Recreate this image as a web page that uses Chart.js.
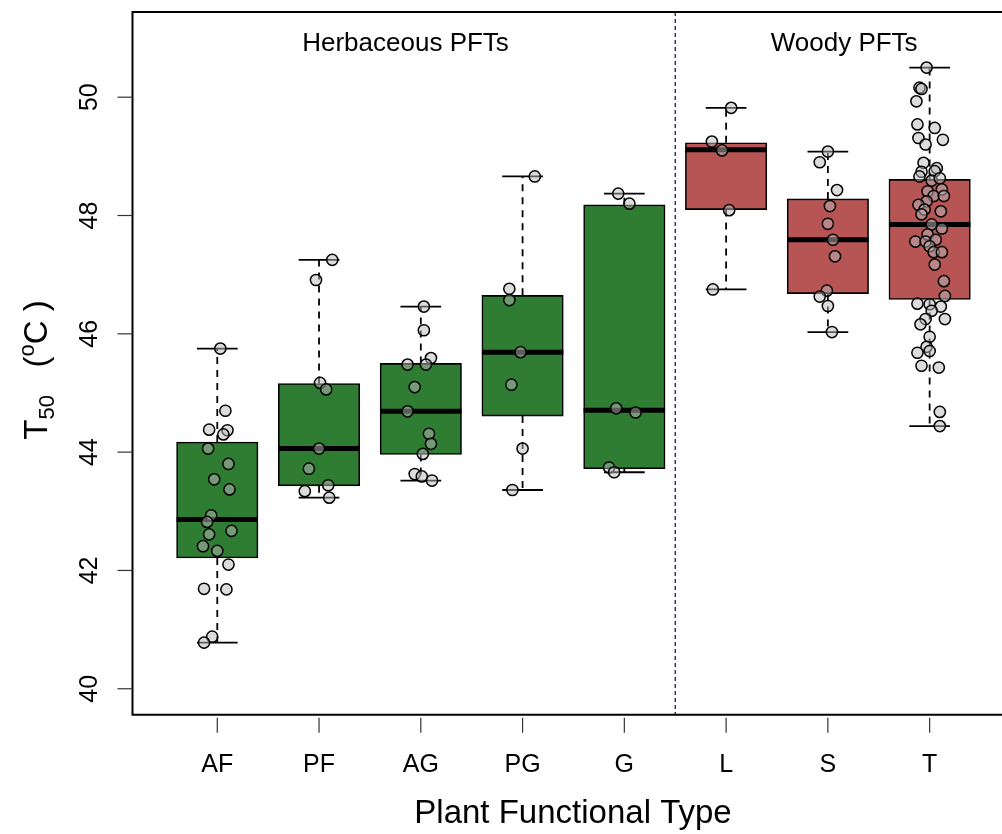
<!DOCTYPE html>
<html><head><meta charset="utf-8">
<script src="https://cdn.jsdelivr.net/npm/chart.js@4/dist/chart.umd.min.js"></script>
<style>html,body{margin:0;padding:0;background:#fff;overflow:hidden;}#wrap{width:1002px;height:834px;position:relative;}</style>
</head><body><div id="wrap"><canvas id="c"></canvas></div>
<script>
// ---------------- data ----------------
const categories = ['AF','PF','AG','PG','G','L','S','T'];
const pftGroup   = ['Herbaceous','Herbaceous','Herbaceous','Herbaceous','Herbaceous','Woody','Woody','Woody'];
const yTicks = [40,42,44,46,48,50];
const groupTitles = ['Herbaceous PFTs','Woody PFTs'];

const q1Values      = [42.21,43.43,43.96,44.61,43.72,48.10,46.68,46.58];
const medianValues  = [42.86,44.06,44.69,45.69,44.71,49.11,47.59,47.85];
const q3Values      = [44.17,45.16,45.50,46.65,48.18,49.23,48.28,48.61];
const whiskerLow    = [40.78,43.23,43.52,43.36,43.66,46.75,46.03,44.44];
const whiskerHigh   = [45.75,47.25,46.46,48.66,48.37,49.82,49.08,50.50];

const afValues = [45.75,44.70,44.38,44.37,44.30,44.06,43.80,43.54,43.37,42.93,42.82,42.67,42.61,42.41,42.33,42.10,41.69,41.68,40.88,40.78];
const afJitter = [0.03,0.08,-0.08,0.10,0.06,-0.09,0.11,-0.03,0.12,-0.06,-0.10,0.14,-0.08,-0.14,0.00,0.11,-0.13,0.09,-0.05,-0.13];
const pfValues = [47.25,46.91,45.17,45.06,44.06,43.72,43.44,43.34,43.23];
const pfJitter = [0.13,-0.03,0.01,0.07,0.00,-0.10,0.09,-0.14,0.10];
const agValues = [46.46,46.06,45.59,45.48,45.48,45.10,44.69,44.31,44.14,43.97,43.63,43.59,43.52];
const agJitter = [0.03,0.03,0.10,-0.13,0.05,-0.06,-0.13,0.08,0.10,0.02,-0.06,0.01,0.11];
const pgValues = [48.66,46.76,46.57,45.69,45.14,44.06,43.36];
const pgJitter = [0.12,-0.13,-0.13,-0.02,-0.11,0.00,-0.10];
const gValues  = [48.37,48.20,44.74,44.67,43.74,43.66];
const gJitter  = [-0.06,0.05,-0.08,0.11,-0.15,-0.10];
const lValues  = [49.82,49.25,49.10,48.09,46.75];
const lJitter  = [0.05,-0.14,-0.04,0.03,-0.13];
const sValues  = [49.08,48.90,48.43,48.16,47.86,47.59,47.31,46.73,46.63,46.47,46.03];
const sJitter  = [0.00,-0.08,0.09,0.02,0.00,0.05,0.07,-0.01,-0.08,0.00,0.04];
const tValues  = [50.50,50.16,50.14,49.93,49.54,49.48,49.31,49.28,49.20,48.89,48.80,48.74,48.75,48.66,48.59,48.63,48.44,48.41,48.33,48.24,48.33,48.18,48.10,48.07,48.02,47.85,47.78,47.68,47.56,47.56,47.59,47.48,47.38,47.38,47.17,46.89,46.64,46.51,46.50,46.46,46.39,46.25,46.25,46.16,45.95,45.78,45.68,45.71,45.46,45.43,44.68,44.44];
const tJitter  = [-0.03,-0.10,-0.08,-0.13,-0.12,0.05,-0.11,0.13,-0.04,-0.06,0.07,-0.08,0.05,-0.10,0.02,0.10,0.12,-0.02,0.04,-0.03,0.14,-0.11,-0.05,0.11,-0.08,0.02,0.12,-0.02,-0.14,-0.04,0.06,0.00,0.04,0.12,0.05,0.14,0.15,-0.12,0.00,0.11,0.02,0.15,-0.04,-0.09,0.00,-0.03,-0.12,0.00,-0.08,0.09,0.10,0.10];

const groupValues = [afValues,pfValues,agValues,pgValues,gValues,lValues,sValues,tValues];
const groupJitter = [afJitter,pfJitter,agJitter,pgJitter,gJitter,lJitter,sJitter,tJitter];

// ---------------- style ----------------
const FONT = '"Liberation Sans", Arial, Helvetica, sans-serif';
const groupColors = {Herbaceous:'rgb(46,125,50)', Woody:'rgb(183,84,84)'};
const BOX_WEX = 0.8, STAPLE_WEX = 0.4;

// ---------------- build datasets ----------------
const catX = categories.map((c,i)=>i+1);
const boxData = catX.map((x,i)=>({x, y:[q1Values[i], q3Values[i]]}));
const medianData = catX.map((x,i)=>({x, y:medianValues[i]}));
const capData = [];
const whiskerData = [];
catX.forEach((x,i)=>{
  capData.push({x, y:whiskerLow[i]}, {x, y:whiskerHigh[i]});
  whiskerData.push({x, y:q3Values[i]}, {x, y:whiskerHigh[i]}, {x, y:null},
                   {x, y:q1Values[i]}, {x, y:whiskerLow[i]}, {x, y:null});
});
const pointData = [];
groupValues.forEach((vals,i)=>vals.forEach((v,k)=>pointData.push({x:catX[i]+groupJitter[i][k], y:v})));

const halfWidthPx = (chart, w) => {
  const s = chart.scales.x;
  return Math.abs(s.getPixelForValue(1 + w/2) - s.getPixelForValue(1));
};

const separatorAt = (catX[categories.indexOf('G')] + catX[categories.indexOf('L')]) / 2;

const rAxes = {
  id:'rAxes',
  afterLayout(chart){
    chart.data.datasets.forEach(ds=>{ if (ds.type === 'bar') ds.barThickness = 2*halfWidthPx(chart, BOX_WEX); });
  },
  beforeDatasetsDraw(chart){
    const {ctx, chartArea:a, scales:{x}} = chart;
    const px = x.getPixelForValue(separatorAt);
    ctx.save();
    ctx.strokeStyle = '#14147a'; ctx.lineWidth = 1.3; ctx.setLineDash([4,3]);
    ctx.beginPath(); ctx.moveTo(px, a.top); ctx.lineTo(px, a.bottom); ctx.stroke();
    ctx.restore();
  },
  afterDraw(chart){
    const {ctx, chartArea:a, scales:{x, y}} = chart;
    ctx.save();
    // frame: left, top and bottom sides (the right side lies outside the picture)
    ctx.strokeStyle = '#000'; ctx.lineWidth = 2; ctx.setLineDash([]);
    ctx.beginPath();
    ctx.moveTo(chart.width + 5, a.top); ctx.lineTo(a.left, a.top); ctx.lineTo(a.left, a.bottom); ctx.lineTo(chart.width + 5, a.bottom);
    ctx.stroke();
    // y axis ticks and labels
    ctx.lineWidth = 1.2; ctx.strokeStyle = '#333';
    ctx.fillStyle = '#000';
    ctx.font = '25px ' + FONT;
    yTicks.forEach(v=>{
      const py = y.getPixelForValue(v);
      ctx.beginPath(); ctx.moveTo(a.left - 15, py); ctx.lineTo(a.left, py); ctx.stroke();
      ctx.save(); ctx.translate(a.left - 36, py); ctx.rotate(-Math.PI/2);
      ctx.textAlign = 'center'; ctx.textBaseline = 'alphabetic';
      ctx.fillText(String(v), 0, 0); ctx.restore();
    });
    // x axis ticks and labels
    categories.forEach((c,i)=>{
      const px = x.getPixelForValue(catX[i]);
      ctx.beginPath(); ctx.moveTo(px, a.bottom + 3); ctx.lineTo(px, a.bottom + 18); ctx.stroke();
      ctx.textAlign = 'center'; ctx.textBaseline = 'alphabetic';
      ctx.fillText(c, px, a.bottom + 57);
    });
    // x title
    ctx.font = '33px ' + FONT;
    ctx.fillText('Plant Functional Type', 573, a.bottom + 108);
    // group titles
    ctx.font = '26px ' + FONT;
    ctx.fillText(groupTitles[0], x.getPixelForValue(2.85), a.top + 39);
    ctx.fillText(groupTitles[1], x.getPixelForValue(7.16), a.top + 39);
    // y title: T50 (oC)
    const big = 33, small = 22;
    const parts = [
      {t:'T', s:big, dy:0},
      {t:'50', s:small, dy:7},
      {t:'   (', s:big, dy:0},
      {t:'o', s:small, dy:-13},
      {t:'C', s:big, dy:0},
      {t:' )', s:big, dy:0}
    ];
    let total = 0;
    parts.forEach(p=>{ ctx.font = p.s + 'px ' + FONT; p.w = ctx.measureText(p.t).width; total += p.w; });
    ctx.save(); ctx.translate(47, 370); ctx.rotate(-Math.PI/2);
    ctx.textAlign = 'left';
    let cx = -total/2;
    parts.forEach(p=>{ ctx.font = p.s + 'px ' + FONT; ctx.fillText(p.t, cx, p.dy); cx += p.w; });
    ctx.restore();
    ctx.restore();
  }
};

new Chart(document.getElementById('c'), {
  type:'bar',
  data:{ datasets:[
    { type:'scatter', label:'points', data:pointData, order:1,
      pointRadius:5.6, pointHoverRadius:5.6, pointBorderWidth:1.5,
      pointBackgroundColor:'rgba(185,185,185,0.5)', pointBorderColor:'#000' },
    { type:'scatter', label:'median', data:medianData, order:2, pointStyle:'line',
      pointRadius: ctx=>halfWidthPx(ctx.chart, BOX_WEX), pointBorderWidth:5, pointBorderColor:'#000' },
    { type:'bar', label:'box', data:boxData, order:3,
      backgroundColor: categories.map((c,i)=>groupColors[pftGroup[i]]),
      borderColor:'#000', borderWidth:1.6, borderSkipped:false,
      barPercentage:1, categoryPercentage:1 },
    { type:'scatter', label:'caps', data:capData, order:4, pointStyle:'line',
      pointRadius: ctx=>halfWidthPx(ctx.chart, STAPLE_WEX), pointBorderWidth:1.8, pointBorderColor:'#000' },
    { type:'line', label:'whiskers', data:whiskerData, order:5, spanGaps:false,
      borderColor:'#000', borderWidth:1.8, borderDash:[7,6], pointRadius:0, fill:false, tension:0 }
  ]},
  options:{
    responsive:true, maintainAspectRatio:false, animation:false,
    layout:{ autoPadding:false, padding:{ left:132.5, top:12, right:0, bottom:119.2 } },
    plugins:{ legend:{display:false}, tooltip:{enabled:false} },
    events:[],
    scales:{
      x:{ type:'linear', min:0.167, max:8.711, offset:false, display:false },
      y:{ type:'linear', min:39.56, max:51.44, display:false }
    }
  },
  plugins:[rAxes]
});
</script></body></html>
